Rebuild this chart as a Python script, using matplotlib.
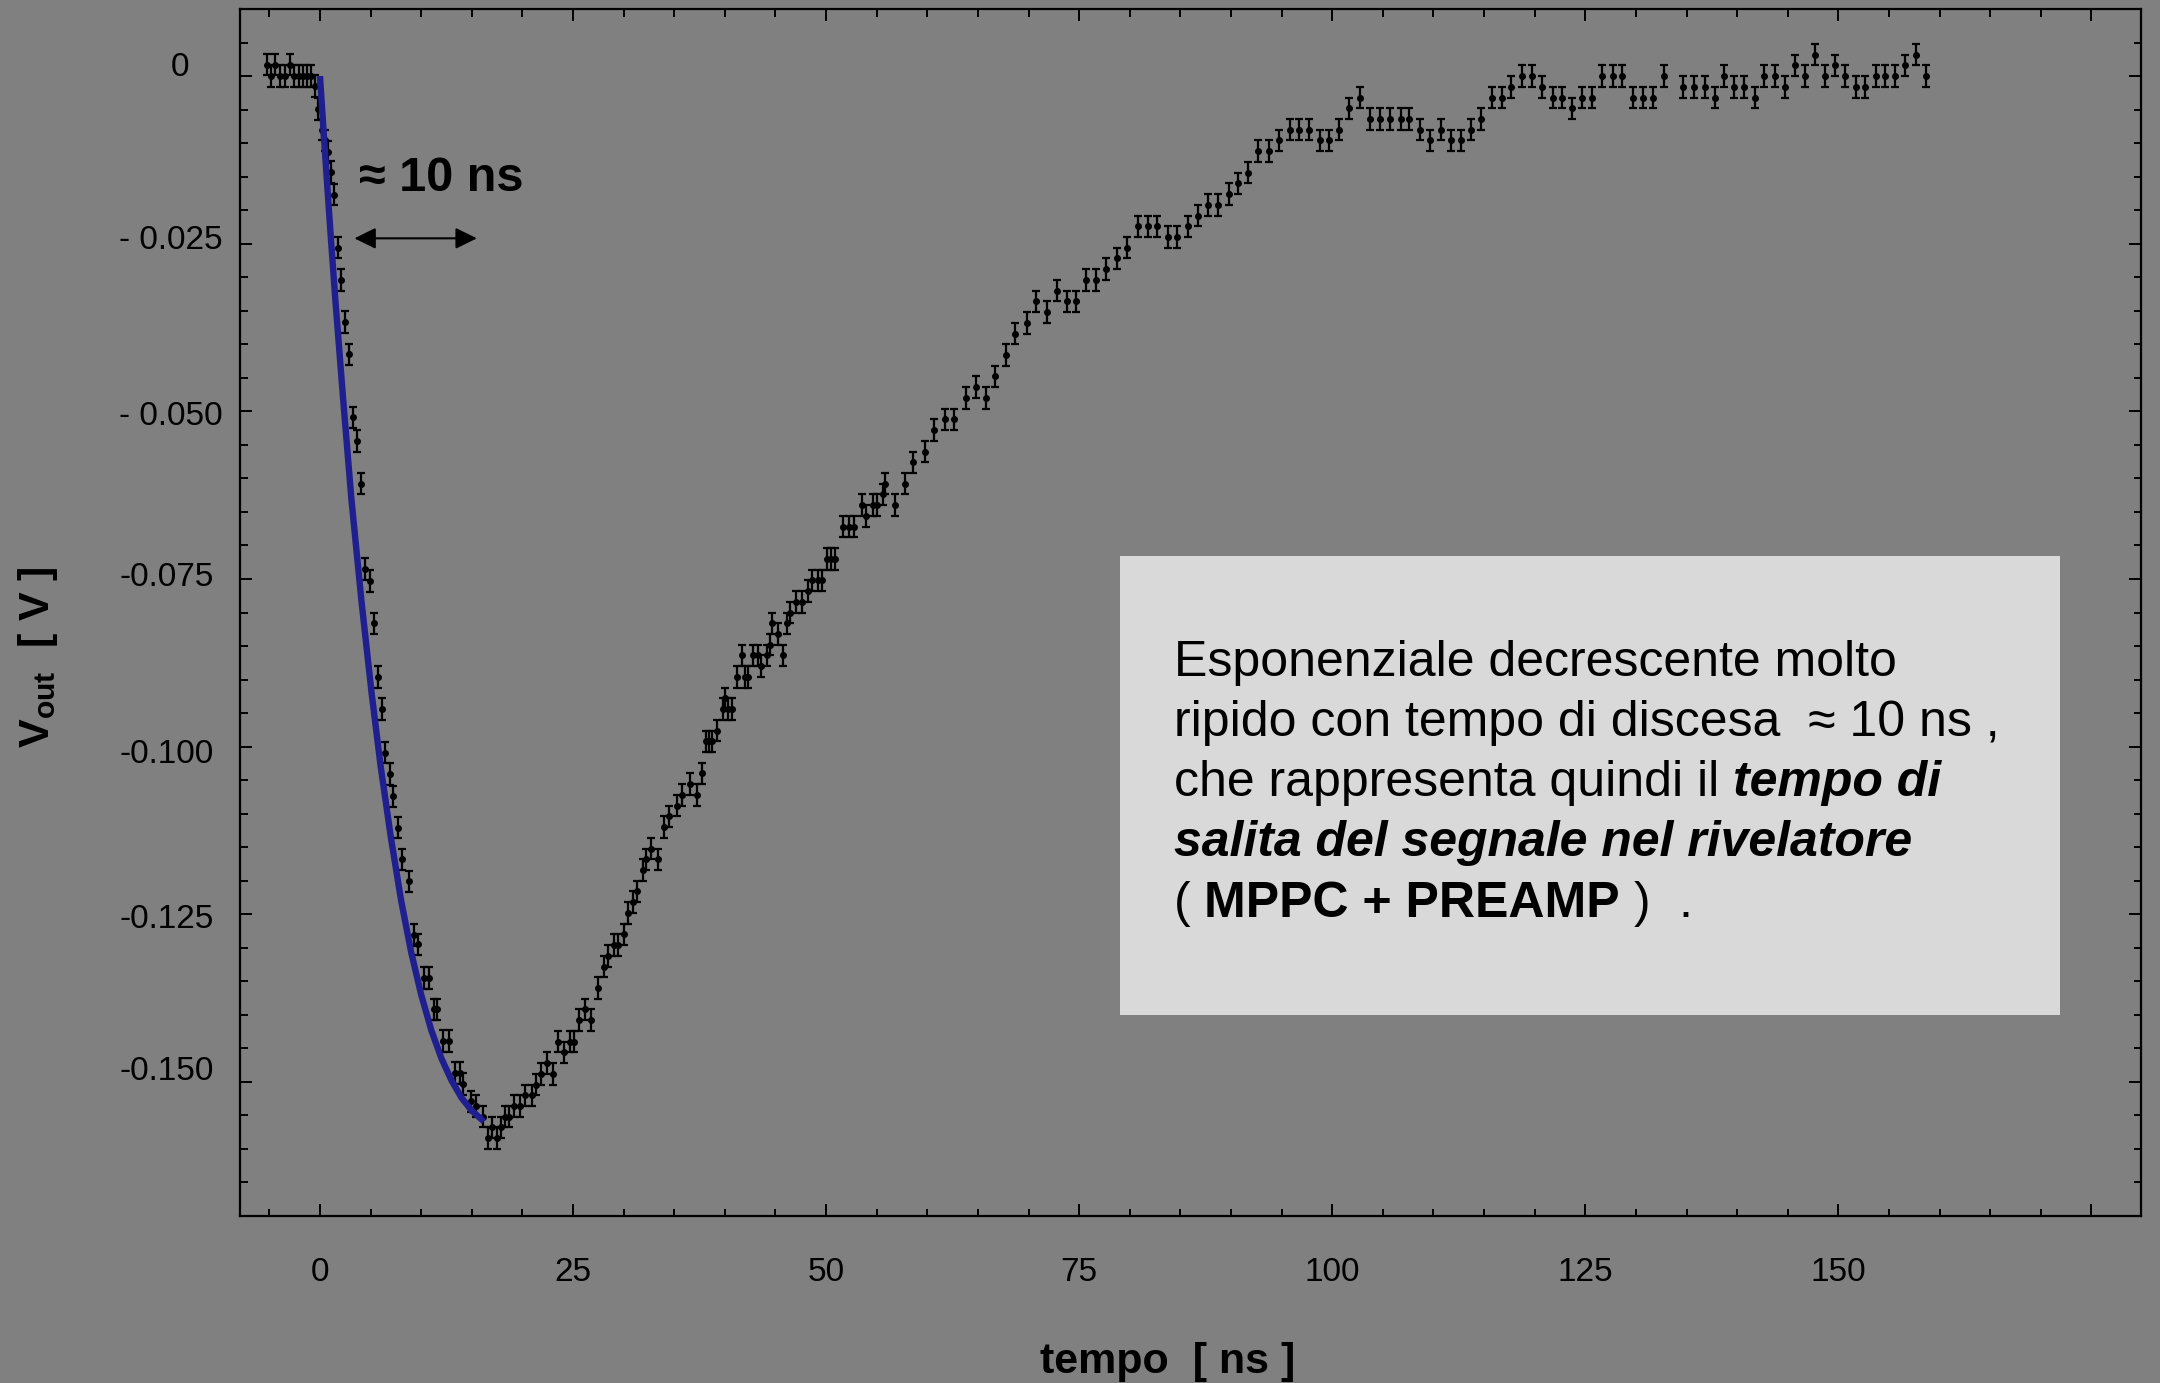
import matplotlib
matplotlib.use("Agg")
import matplotlib.pyplot as plt
from matplotlib.patches import Rectangle
from matplotlib.ticker import MultipleLocator
from matplotlib.transforms import ScaledTranslation
from matplotlib.font_manager import FontProperties

# ---------------- data ----------------
time_ns = [
    -5.2, -4.8, -4.4, -3.9, -3.5, -3.0, -2.6, -2.1, -1.7, -1.3, -0.9, -0.5, -0.2,
    0.2, 0.5, 0.8, 1.1, 1.4, 1.8, 2.1, 2.5, 2.9, 3.3, 3.7, 4.1, 4.45, 4.9, 5.3,
    5.75, 6.1, 6.4, 6.9, 7.25, 7.75, 8.1, 8.8, 9.3, 9.7, 10.3, 10.8, 11.3, 11.6,
    12.2, 12.7, 13.3, 13.8, 14.1, 14.9, 15.4, 16.1, 16.6, 17.0, 17.5, 17.9, 18.3,
    18.7, 19.2, 19.8, 20.3, 20.9, 21.3, 21.8, 22.4, 23.0, 23.5, 24.1, 24.7, 25.1,
    25.6, 26.2, 26.8, 27.5, 28.1, 28.5, 29.0, 29.4, 30.0, 30.4, 30.95, 31.3, 31.9,
    32.25, 32.7, 33.4, 33.95, 34.5, 35.3, 35.8, 36.6, 37.2, 37.7, 38.1, 38.4, 38.7,
    39.2, 39.8, 40.0, 40.3, 40.7, 41.2, 41.7, 42.0, 42.3, 42.8, 43.3, 43.6, 44.2,
    44.5, 44.7, 45.2, 45.7, 46.1, 46.4, 47.0, 47.6, 48.2, 48.6, 49.2, 49.6, 50.05,
    50.5, 50.9, 51.7, 52.3, 52.8, 53.5, 53.9, 54.6, 55.0, 55.6, 55.8, 56.8, 57.8,
    58.6, 59.75, 60.7, 61.7, 62.6, 63.8, 64.8, 65.8, 66.7, 67.8, 68.7, 69.8, 70.7,
    71.8, 72.8, 73.8, 74.7, 75.65, 76.7, 77.7, 78.7, 79.7, 80.8, 81.8, 82.7, 83.8,
    84.7, 85.8, 86.7, 87.7, 88.75, 89.8, 90.7, 91.7, 92.7, 93.8, 94.7, 95.8, 96.7,
    97.7, 98.8, 99.7, 100.7, 101.7, 102.7, 103.7, 104.7, 105.7, 106.8, 107.6,
    108.7, 109.7, 110.7, 111.75, 112.7, 113.7, 114.7, 115.8, 116.8, 117.7, 118.7,
    119.7, 120.75, 121.8, 122.7, 123.7, 124.7, 125.7, 126.7, 127.7, 128.6, 129.7,
    130.7, 131.7, 132.8, 134.7, 135.7, 136.8, 137.8, 138.7, 139.7, 140.7, 141.75,
    142.7, 143.7, 144.7, 145.7, 146.7, 147.7, 148.7, 149.7, 150.65, 151.7, 152.6,
    153.7, 154.6, 155.6, 156.6, 157.7, 158.7,
]
v_out = [
    0.0017, 0.0, 0.0017, 0.0, 0.0, 0.0017, 0.0, 0.0, 0.0, 0.0, 0.0, -0.0015, -0.0049,
    -0.0080, -0.0096, -0.0113, -0.0143, -0.0177, -0.0256, -0.0304, -0.0367, -0.0415,
    -0.0509, -0.0544, -0.0608, -0.0735, -0.0753, -0.0816, -0.0896, -0.0944, -0.1009,
    -0.1041, -0.1074, -0.1121, -0.1168, -0.1201, -0.1281, -0.1295, -0.1345, -0.1345,
    -0.1392, -0.1392, -0.1439, -0.1439, -0.1487, -0.1487, -0.1503, -0.1529, -0.1536,
    -0.1552, -0.1584, -0.1568, -0.1584, -0.1568, -0.1552, -0.1552, -0.1536, -0.1536,
    -0.1520, -0.1520, -0.1504, -0.1488, -0.1472, -0.1488, -0.1440, -0.1456, -0.1440,
    -0.1440, -0.1408, -0.1392, -0.1408, -0.1360, -0.1328, -0.1312, -0.1296, -0.1296,
    -0.1280, -0.1248, -0.1232, -0.1216, -0.1184, -0.1168, -0.1152, -0.1168, -0.1120,
    -0.1104, -0.1088, -0.1072, -0.1056, -0.1072, -0.1040, -0.0992, -0.0992, -0.0992,
    -0.0976, -0.0944, -0.0928, -0.0944, -0.0944, -0.0896, -0.0864, -0.0896, -0.0896,
    -0.0864, -0.0864, -0.0880, -0.0864, -0.0848, -0.0816, -0.0832, -0.0864, -0.0816,
    -0.0800, -0.0784, -0.0784, -0.0768, -0.0752, -0.0752, -0.0752, -0.0720, -0.0720,
    -0.0720, -0.0672, -0.0672, -0.0672, -0.0640, -0.0656, -0.0640, -0.0640, -0.0624,
    -0.0608, -0.0640, -0.0608, -0.0576, -0.0560, -0.0528, -0.0512, -0.0512, -0.0480,
    -0.0464, -0.0480, -0.0448, -0.0416, -0.0384, -0.0368, -0.0336, -0.0352, -0.0320,
    -0.0336, -0.0336, -0.0304, -0.0304, -0.0288, -0.0272, -0.0256, -0.0224, -0.0224,
    -0.0224, -0.0240, -0.0240, -0.0224, -0.0208, -0.0192, -0.0192, -0.0176, -0.0160,
    -0.0144, -0.0112, -0.0112, -0.0096, -0.0080, -0.0080, -0.0080, -0.0096, -0.0096,
    -0.0080, -0.0048, -0.0032, -0.0064, -0.0064, -0.0064, -0.0064, -0.0064, -0.0080,
    -0.0096, -0.0080, -0.0096, -0.0096, -0.0080, -0.0064, -0.0032, -0.0032, -0.0016,
    0.0, 0.0, -0.0016, -0.0032, -0.0032, -0.0048, -0.0032, -0.0032, 0.0, 0.0, 0.0,
    -0.0032, -0.0032, -0.0032, 0.0, -0.0016, -0.0016, -0.0016, -0.0032, 0.0, -0.0016,
    -0.0016, -0.0032, 0.0, 0.0, -0.0016, 0.0016, 0.0, 0.0032, 0.0, 0.0016, 0.0,
    -0.0016, -0.0016, 0.0, 0.0, 0.0, 0.0016, 0.0032, 0.0,
]
V_ERR = 0.0016

# exponential fit curve
fit_t = [0.0, 0.5, 1.0, 1.5, 2.3, 3.1, 4.1, 5.1, 6.0, 7.0, 8.0, 9.0, 10.0,
         11.0, 12.0, 13.0, 14.0, 15.0, 16.2]
fit_v = [0.0, -0.0115, -0.0225, -0.0330, -0.0484, -0.0630, -0.0783, -0.0920,
         -0.1030, -0.1135, -0.1228, -0.1306, -0.1370, -0.1423, -0.1465, -0.1498,
         -0.1524, -0.1543, -0.1559]

x_ticks = [0, 25, 50, 75, 100, 125, 150, 175]
x_tick_labels = ["0", "25", "50", "75", "100", "125", "150", ""]
y_ticks = [0.0, -0.025, -0.050, -0.075, -0.100, -0.125, -0.150]
y_tick_labels = ["0", "- 0.025", "- 0.050", "-0.075", "-0.100", "-0.125", "-0.150"]

x_label = "tempo  [ ns ]"
y_label = r"$\mathbf{V_{out}}$  [ V ]"
arrow_label = "\u2248 10 ns"

box_lines = [
    [("Esponenziale decrescente molto", "normal", "normal", 0)],
    [("ripido con tempo di discesa  \u2248 10 ns ,", "normal", "normal", 0)],
    [("che rappresenta quindi il", "normal", "normal", 0),
     ("tempo di", "bold", "italic", 1)],
    [("salita del segnale nel rivelatore", "bold", "italic", 0)],
    [("(", "normal", "normal", 0), ("MPPC + PREAMP", "bold", "normal", 1),
     (")", "normal", "normal", 1), (".", "normal", "normal", 2)],
]

# ---------------- style ----------------
plt.rcParams["font.family"] = ["Liberation Sans", "DejaVu Sans"]
plt.rcParams["mathtext.fontset"] = "custom"
plt.rcParams["mathtext.rm"] = "Liberation Sans"
plt.rcParams["mathtext.bf"] = "Liberation Sans:bold"
plt.rcParams["mathtext.it"] = "Liberation Sans:italic"

W, H, DPI = 2160, 1383, 100
GREY = "#808080"
fig = plt.figure(figsize=(W / DPI, H / DPI), dpi=DPI, facecolor=GREY)
ax = fig.add_axes([240 / W, 1 - 1216 / H, 1901 / W, 1207 / H], facecolor=GREY)

ax.errorbar(time_ns, v_out, yerr=V_ERR, fmt="o", color="black", ms=4.0,
            elinewidth=1.6, capsize=3.2, capthick=1.6, zorder=2)
ax.plot(fit_t, fit_v, color="#1f1f8f", lw=4.6, zorder=3,
        solid_capstyle="butt", solid_joinstyle="round")

ax.set_xlim(-7.9, 179.9)
ax.set_ylim(-0.170, 0.010)
ax.set_xticks(x_ticks, labels=x_tick_labels)
ax.set_yticks(y_ticks, labels=y_tick_labels)
ax.xaxis.set_minor_locator(MultipleLocator(5))
ax.yaxis.set_minor_locator(MultipleLocator(0.005))

for s in ax.spines.values():
    s.set_linewidth(1.6)
    s.set_color("black")

ax.tick_params(which="both", direction="in", top=True, right=True,
               color="black", width=1.4, labelcolor="black")
ax.tick_params(which="major", length=8.6, labelsize=24)
ax.tick_params(which="minor", length=5.4)
ax.tick_params(axis="x", which="major", pad=29.5)
ax.tick_params(axis="y", which="major", pad=17)

# small hand-placement offsets of the y tick labels (pixels)
y_label_shift = [(-27, 12), (6, 7), (6, -2), (-3, 5), (-3, -4), (-3, -2), (-3, 14)]
for lab, (dx, dy) in zip(ax.get_yticklabels(), y_label_shift):
    lab.set_transform(lab.get_transform() +
                      ScaledTranslation(dx / DPI, dy / DPI, fig.dpi_scale_trans))

ax.set_xlabel(x_label, fontsize=31, fontweight="bold")
ax.xaxis.set_label_coords((1168 - 240) / 1901, (1216 - 1342) / 1207)
ax.set_ylabel(y_label, fontsize=31, fontweight="bold")
ax.yaxis.set_label_coords((60 - 240) / 1901, (1216 - 657) / 1207)

# annotation: "≈ 10 ns" and double arrow
ax.text(3.85, -0.0171, arrow_label, fontsize=35, fontweight="bold",
        ha="left", va="baseline", color="black", zorder=4)
ax.annotate("", xy=(15.5, -0.0242), xytext=(3.4, -0.0242),
            arrowprops=dict(arrowstyle="<|-|>,head_length=0.65,head_width=0.32",
                            mutation_scale=20, lw=1.5, color="black",
                            shrinkA=0, shrinkB=0), zorder=4)

# ---------------- text box ----------------
box = Rectangle((1120 / W, 1 - 1015 / H), 940 / W, 459 / H,
                transform=fig.transFigure, facecolor="#d9d9d9",
                edgecolor="none", zorder=5)
fig.add_artist(box)

FS_BOX = 36
renderer = fig.canvas.get_renderer()


def space_width(weight, style):
    prop = FontProperties(family="Liberation Sans", weight=weight, style=style,
                          size=FS_BOX)
    w1 = renderer.get_text_width_height_descent("a a", prop, ismath=False)[0]
    w2 = renderer.get_text_width_height_descent("aa", prop, ismath=False)[0]
    return w1 - w2


baselines = [676, 736, 796, 856, 917]
for parts, yb in zip(box_lines, baselines):
    x = 1174.0
    for text, weight, style, gap in parts:
        x += gap * space_width(weight, style)
        t = fig.text(x / W, 1 - yb / H, text, fontsize=FS_BOX, fontweight=weight,
                     fontstyle=style, ha="left", va="baseline", color="black",
                     zorder=6)
        x = t.get_window_extent(renderer).x1

fig.savefig("out.png", dpi=DPI, facecolor=GREY)
